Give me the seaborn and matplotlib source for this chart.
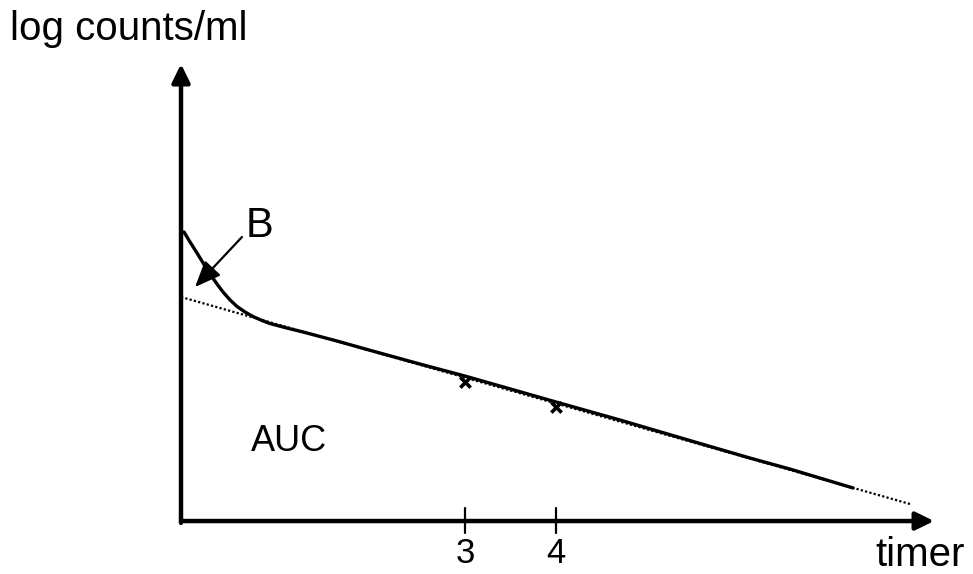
import matplotlib
matplotlib.use("Agg")
import matplotlib.pyplot as plt
import seaborn as sns

curve_t = [-0.088, -0.022, 0.055, 0.132, 0.198, 0.275, 0.341, 0.418, 0.495,
           0.582, 0.670, 0.769, 0.857, 1.022, 1.220, 1.593, 1.956, 2.505,
           3.0, 4.0, 4.703, 5.582, 6.132, 6.571, 7.264]
curve_y = [3.176, 3.066, 2.945, 2.819, 2.714, 2.604, 2.516, 2.429, 2.357,
           2.297, 2.247, 2.203, 2.170, 2.126, 2.077, 1.978, 1.876, 1.725,
           1.593, 1.308, 1.110, 0.852, 0.692, 0.571, 0.363]

# extrapolated terminal line (dotted)
line_t = [-0.121, 7.890]
line_y = [2.462, 0.187]

# sampled points marked with x
mark_t = [3, 4]
mark_y = [1.527, 1.253]

tick_pos = [3, 4]
tick_labels = ["3", "4"]

x0, y0 = -0.121, 0.0
x_end, y_end = 8.154, 5.022

sns.set_style("white")
plt.rcParams["font.family"] = ["Liberation Sans", "DejaVu Sans"]
plt.rcParams["text.color"] = "black"

fig = plt.figure(figsize=(9.73, 5.74), dpi=100)
ax = fig.add_axes([0, 0, 1, 1])
ax.set_xlim(-2.110, 8.582)
ax.set_ylim(-0.582, 5.725)
ax.axis("off")

sns.lineplot(x=line_t, y=line_y, ax=ax, color="black", lw=1.6,
             linestyle=(0, (1, 1)), sort=False)
sns.lineplot(x=curve_t, y=curve_y, ax=ax, color="black", lw=2.4, sort=False)
sns.scatterplot(x=mark_t, y=mark_y, ax=ax, marker="x", s=55, color="black",
                linewidth=2.6)

# axes with arrow heads
head = "-|>,head_length=0.55,head_width=0.27"
ax.annotate("", xy=(x0, y_end), xytext=(x0, y0 - 0.02),
            arrowprops=dict(arrowstyle=head, mutation_scale=20, lw=3.2,
                            color="black", shrinkA=0, shrinkB=0))
ax.annotate("", xy=(x_end, y0), xytext=(x0, y0),
            arrowprops=dict(arrowstyle=head, mutation_scale=20, lw=3.2,
                            color="black", shrinkA=0, shrinkB=0))

for p, lab in zip(tick_pos, tick_labels):
    ax.plot([p, p], [0.143, -0.132], color="black", lw=1.6)
    ax.text(p, -0.462, lab, ha="center", va="baseline", fontsize=25)

ax.text(-2.0, 5.286, "log counts/ml", ha="left", va="baseline", fontsize=29)
ax.text(7.505, -0.495, "timer", ha="left", va="baseline", fontsize=29)
ax.text(0.648, 0.769, "AUC", ha="left", va="baseline", fontsize=26)

# label B with its pointer
ax.text(0.593, 3.121, "B", ha="left", va="baseline", fontsize=30)
ax.annotate("", xy=(0.033, 2.571), xytext=(0.549, 3.121),
            arrowprops=dict(arrowstyle="-|>,head_length=0.8,head_width=0.33",
                            mutation_scale=20, lw=1.6, color="black",
                            shrinkA=0, shrinkB=0))

plt.savefig("out.png", dpi=100)
